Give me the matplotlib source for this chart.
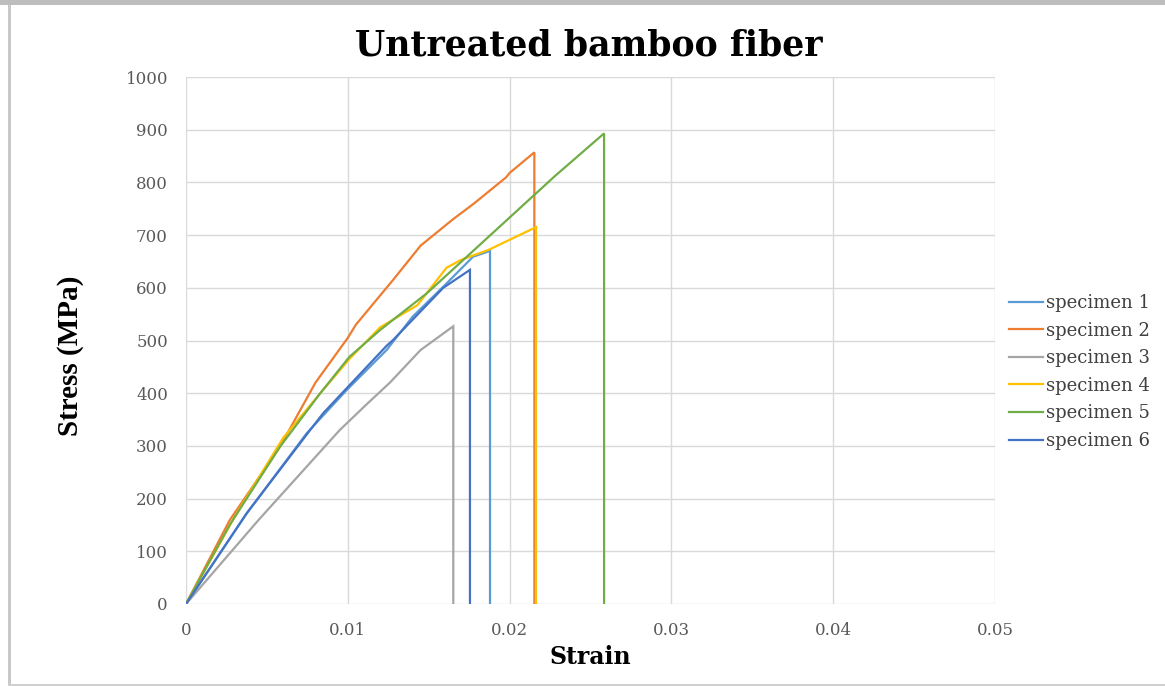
import matplotlib
matplotlib.use("Agg")
import matplotlib.pyplot as plt
from matplotlib.patches import Rectangle
from matplotlib.lines import Line2D

# ---- data ----
s1_strain = [0, 0.00375, 0.00746, 0.00993, 0.0124, 0.0140, 0.0159, 0.01774, 0.01879, 0.01879]
s1_stress = [0, 172, 324, 406, 482, 545, 602, 659, 670, 0]

s2_strain = [0, 0.0027, 0.0058, 0.0080, 0.0100, 0.0105, 0.0128, 0.0145, 0.0165, 0.0178, 0.0198, 0.0200, 0.02153, 0.02153]
s2_stress = [0, 159, 298, 420, 505, 530, 615, 680, 730, 760, 810, 818, 857, 0]

s3_strain = [0, 0.0045, 0.0095, 0.0112, 0.0126, 0.0145, 0.01652, 0.01652]
s3_stress = [0, 160, 330, 380, 420, 482, 527, 0]

s4_strain = [0, 0.0030, 0.0060, 0.0083, 0.0101, 0.0120, 0.0143, 0.0161, 0.0170, 0.0187, 0.02163, 0.02163]
s4_stress = [0, 165, 315, 400, 465, 525, 567, 638, 653, 672, 715, 0]

s5_strain = [0, 0.0027, 0.0058, 0.0083, 0.0101, 0.0120, 0.0149, 0.0228, 0.02584, 0.02584]
s5_stress = [0, 150, 298, 400, 469, 520, 590, 812, 893, 0]

s6_strain = [0, 0.00375, 0.00767, 0.00848, 0.0124, 0.0128, 0.0159, 0.01755, 0.01755]
s6_stress = [0, 172, 330, 362, 490, 501, 600, 634, 0]

labels = ["specimen 1", "specimen 2", "specimen 3", "specimen 4", "specimen 5", "specimen 6"]
colors = ["#5B9BD5", "#ED7D31", "#A5A5A5", "#FFC000", "#70AD47", "#4472C4"]

x_ticks = [0, 0.01, 0.02, 0.03, 0.04, 0.05]
x_ticklabels = ["0", "0.01", "0.02", "0.03", "0.04", "0.05"]
y_ticks = [0, 100, 200, 300, 400, 500, 600, 700, 800, 900, 1000]

series = [(s1_strain, s1_stress), (s2_strain, s2_stress), (s3_strain, s3_stress),
          (s4_strain, s4_stress), (s5_strain, s5_stress), (s6_strain, s6_stress)]

plt.rcParams['font.family'] = ['DejaVu Serif', 'Liberation Serif']

fig = plt.figure(figsize=(11.65, 6.86), dpi=100)
ax = fig.add_axes([186/1165, 1-604/686, (995-186)/1165, (604-77)/686])

for (xs, ys), lab, c in zip(series, labels, colors):
    ax.plot(xs, ys, color=c, lw=1.6, label=lab, solid_joinstyle='miter')

ax.set_xlim(0, 0.05)
ax.set_ylim(0, 1000)
ax.set_xticks(x_ticks)
ax.set_xticklabels(x_ticklabels)
ax.set_yticks(y_ticks)
ax.grid(True, color="#d9d9d9", lw=1.0)
ax.set_axisbelow(True)
for sp in ax.spines.values():
    sp.set_visible(False)
ax.tick_params(axis='both', length=0, labelsize=12, labelcolor="#595959")
ax.tick_params(axis='x', pad=13)
ax.tick_params(axis='y', pad=13)

ax.set_xlabel("Strain", fontsize=17, fontweight='bold', labelpad=4)
ax.set_ylabel("Stress (MPa)", fontsize=21, fontweight='bold',
              family=['Liberation Serif', 'DejaVu Serif'], va='center', ha='center')
ax.yaxis.set_label_coords((70 - 186) / 809, (604 - 356) / 527)
fig.text(589/1165, 1-45/686, "Untreated bamboo fiber", fontsize=25, fontweight='bold',
         ha='center', va='center')

handles = [Line2D([0], [0], color=c, lw=1.6) for c in colors]
leg = fig.legend(handles, labels, loc='center left', bbox_to_anchor=(1009/1165, 1-372/686),
                 frameon=False, fontsize=13, handlelength=1.9, handletextpad=0.15,
                 labelspacing=0.53, borderaxespad=0, borderpad=0)
for t in leg.get_texts():
    t.set_color("#404040")

# frame decoration
fig.patches.append(Rectangle((0, 1-5/686), 1, 5/686, transform=fig.transFigure,
                             facecolor="#bdbdbd", edgecolor='none'))
fig.patches.append(Rectangle((8/1165, 0), 3/1165, 1-5/686, transform=fig.transFigure,
                             facecolor="#c8c8c8", edgecolor='none'))
fig.patches.append(Rectangle((8/1165, 0), 1-8/1165, 2/686, transform=fig.transFigure,
                             facecolor="#d0d0d0", edgecolor='none'))

fig.savefig("out.png", dpi=100)
